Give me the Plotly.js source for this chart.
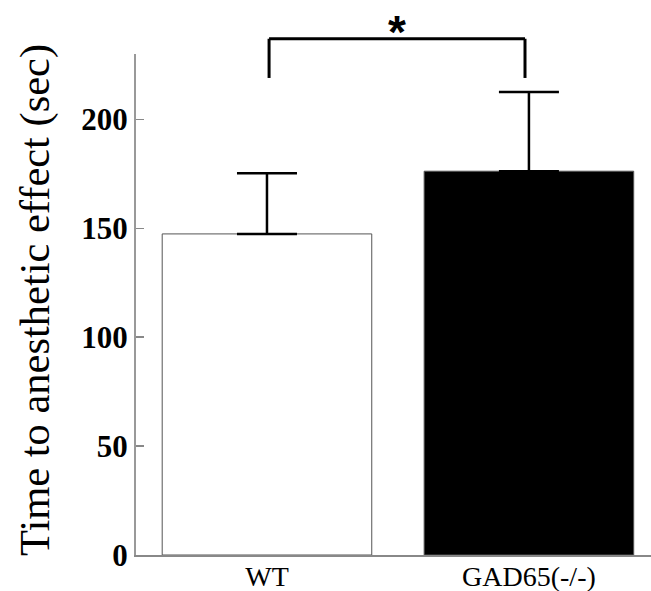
<!DOCTYPE html>
<html>
<head>
<meta charset="utf-8">
<script src="https://cdn.plot.ly/plotly-3.0.1.min.js"></script>
<style>html,body{margin:0;padding:0;background:#fff;}#chart{width:651px;height:591px;}</style>
</head>
<body>
<div id="chart"></div>
<script>
// Data
const categories = ["WT", "GAD65(-/-)"];
const means = [147.4, 176.2];
const errorsUp = [27.8, 36.4];
const barColors = ["#ffffff", "#000000"];
const yTickVals = [0, 50, 100, 150, 200];
const yTickText = ["0", "50", "100", "150", "200"];
const yTitle = "Time to anesthetic effect (sec)";
const yMax = 230;
// significance bracket (data units)
const bracketX = [0.008, 0.985];
const bracketYLow = 219;
const bracketYHigh = 237;
const sigLabel = "*";

const layoutMargin = {l: 136, r: 0, t: 54, b: 36};
const toPaperY = v => v / yMax;

const trace = {
  type: "bar",
  x: [0, 1],
  y: means,
  width: 0.8,
  marker: {color: barColors, line: {color: "#555555", width: 1}},
  error_y: {type: "data", symmetric: false, array: errorsUp, arrayminus: [0, 0],
            color: "#000000", thickness: 2.5, width: 30},
  hoverinfo: "none"
};

const layout = {
  width: 651, height: 591,
  margin: layoutMargin,
  paper_bgcolor: "#ffffff", plot_bgcolor: "#ffffff",
  showlegend: false,
  xaxis: {
    range: [-0.5, 1.466],
    tickvals: [0, 1], ticktext: categories,
    ticks: "", showgrid: false, zeroline: false,
    showline: true, linecolor: "#888888", linewidth: 2,
    tickfont: {family: "Liberation Serif", size: 28, color: "#000"},
    ticklabelstandoff: -5
  },
  yaxis: {
    range: [0, yMax],
    tickvals: yTickVals, ticktext: yTickText,
    ticks: "inside", ticklen: 8, tickwidth: 1.5, tickcolor: "#888888",
    showgrid: false, zeroline: false,
    showline: true, linecolor: "#999999", linewidth: 2,
    tickfont: {family: "Liberation Serif", size: 31, color: "#000", weight: "bold"},
    ticklabelstandoff: 0
  },
  shapes: [
    {type: "line", xref: "x", yref: "paper", x0: bracketX[0], x1: bracketX[0], y0: toPaperY(bracketYLow), y1: toPaperY(bracketYHigh), line: {color: "#000", width: 3}},
    {type: "line", xref: "x", yref: "paper", x0: bracketX[1], x1: bracketX[1], y0: toPaperY(bracketYLow), y1: toPaperY(bracketYHigh), line: {color: "#000", width: 3}},
    {type: "line", xref: "x", yref: "paper", x0: bracketX[0], x1: bracketX[1], y0: toPaperY(bracketYHigh), y1: toPaperY(bracketYHigh), line: {color: "#000", width: 3}}
  ],
  annotations: [
    {text: sigLabel, xref: "x", yref: "paper", x: (bracketX[0] + bracketX[1]) / 2, y: toPaperY(bracketYHigh), yanchor: "bottom", yshift: -21,
     showarrow: false, font: {family: "Liberation Sans", size: 46, color: "#000", weight: "bold"}},
    {text: yTitle, xref: "paper", yref: "paper", x: -0.196, y: 0.509, xanchor: "center", yanchor: "middle",
     textangle: -90, showarrow: false, font: {family: "Liberation Serif", size: 42.5, color: "#000"}}
  ]
};

Plotly.newPlot("chart", [trace], layout, {staticPlot: true, displayModeBar: false});
</script>
</body>
</html>
